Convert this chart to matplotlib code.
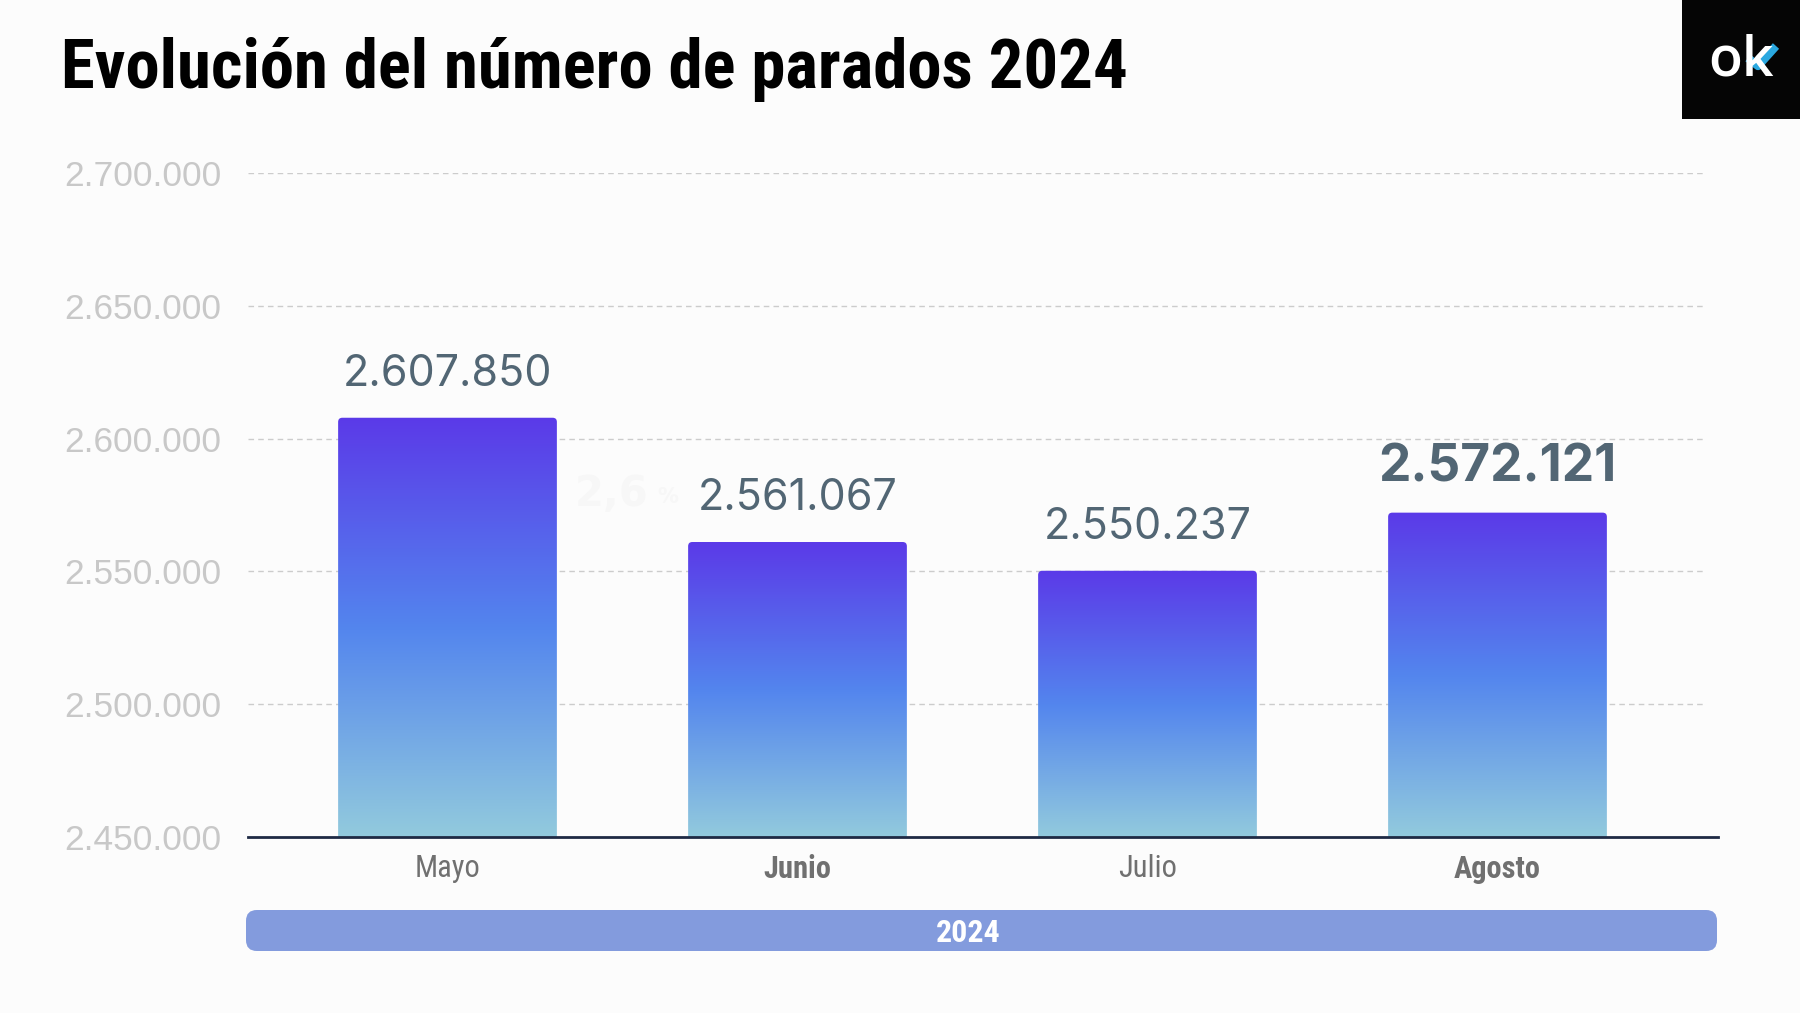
import matplotlib
matplotlib.use("Agg")
import matplotlib.pyplot as plt
import numpy as np
from matplotlib import font_manager as fm
from matplotlib.patches import FancyBboxPatch, Rectangle
from matplotlib.lines import Line2D
from matplotlib.colors import LinearSegmentedColormap

months = ["Mayo", "Junio", "Julio", "Agosto"]
parados = [2607850, 2561067, 2550237, 2572121]
value_labels = ["2.607.850", "2.561.067", "2.550.237", "2.572.121"]
month_bold = [False, True, False, True]
label_bold = [False, False, False, True]
y_ticks = [2450000, 2500000, 2550000, 2600000, 2650000, 2700000]
y_tick_labels = ["2.450.000", "2.500.000", "2.550.000", "2.600.000", "2.650.000", "2.700.000"]
title = "Evolución del número de parados 2024"
band_label = "2024"
ghost_value = "2,6"
ghost_unit = "%"

names = {f.name for f in fm.fontManager.ttflist}
def pick(*cands):
    for c in cands:
        if c in names:
            return c
    return "DejaVu Sans"
narrow = pick("Roboto Condensed", "Liberation Sans Narrow", "DejaVu Sans")
numfont = pick("Inter", "Roboto", "DejaVu Sans")
tickfont = pick("Liberation Sans", "DejaVu Sans")

W, H = 1800, 1013
fig = plt.figure(figsize=(18, 10.13), dpi=100)
bg = "#FCFCFC"
fig.patch.set_facecolor(bg)

ax = fig.add_axes([248/W, 1-837/H, (1718-248)/W, (837-173)/H])
ax.set_facecolor(bg)
ymin, ymax = 2450000, 2700000
ax.set_ylim(ymin, ymax)
ax.set_xlim(-0.57, 3.63)
for s in ["top", "right", "left"]:
    ax.spines[s].set_visible(False)
ax.spines["bottom"].set_color("#1E2A44")
ax.spines["bottom"].set_linewidth(2)
ax.spines["bottom"].set_zorder(5)

ax.set_yticks(y_ticks)
ax.set_yticklabels(y_tick_labels, fontsize=25.5, color="#C8C8C8", fontfamily=tickfont)
ax.tick_params(axis="y", length=0, pad=19)
for y in y_ticks[1:]:
    ax.plot([-0.57, 3.59], [y, y], ls=(0, (4, 3)), color="#CCCCCC", lw=1, zorder=1)

x = np.arange(len(months))
ax.set_xticks(x)
ax.set_xticklabels(months, fontsize=22, color="#707070", fontfamily=narrow)
for lbl, b in zip(ax.get_xticklabels(), month_bold):
    if b:
        lbl.set_fontweight("bold")
ax.tick_params(axis="x", length=0, pad=12)

bar_w = 0.625
bars = ax.bar(x, parados, width=bar_w, bottom=0, color="none", zorder=2)

cmap = LinearSegmentedColormap.from_list("g", ["#92CADD", "#5385EE", "#5B3AE8"])
grad = np.linspace(0, 1, 256).reshape(-1, 1)
ypp = (ymax - ymin) / 664.0
xpp = 4.2 / 1470.0
for b in bars:
    x0 = b.get_x(); w = b.get_width(); top = b.get_height()
    patch = FancyBboxPatch((x0, ymin - 20000), w, top - ymin + 20000,
                           boxstyle="round,pad=0,rounding_size=0.012",
                           mutation_aspect=ypp/xpp, transform=ax.transData,
                           facecolor="none", edgecolor="none")
    ax.add_patch(patch)
    im = ax.imshow(grad, extent=[x0, x0 + w, ymin, top], origin="lower",
                   cmap=cmap, aspect="auto", zorder=3)
    im.set_clip_path(patch)

for xi, v, lab, b in zip(x, parados, value_labels, label_bold):
    ax.annotate(lab, (xi, v), xytext=(0, 32 if b else 31), textcoords="offset points",
                ha="center", va="center", fontsize=37 if b else 31,
                fontweight="bold" if b else "normal",
                color="#526674", fontfamily=numfont)

# faint ghost label
ax.text(0.47, 2579000, ghost_value, transform=ax.transData, ha="center",
        va="center", fontsize=30, fontweight="bold", color="#F7F7F7", zorder=1)
ax.text(0.63, 2578000, ghost_unit, transform=ax.transData, ha="center",
        va="center", fontsize=15, fontweight="bold", color="#F7F7F7", zorder=1)

# title
fig.text(61/W, 1-69/H, title, fontsize=49.5, fontweight="bold", color="black",
         ha="left", va="center", fontfamily=narrow)

# year band
band = FancyBboxPatch((246/W, 1-951/H), (1717-246)/W, 41/H,
                      boxstyle="round,pad=0,rounding_size=0.006",
                      mutation_aspect=W/H, transform=fig.transFigure,
                      facecolor="#839BDD", edgecolor="none")
fig.patches.append(band)
fig.text(968/W, 1-933/H, band_label, fontsize=23, fontweight="bold",
         color="white", ha="center", va="center", fontfamily=narrow)

# logo
fig.patches.append(Rectangle((1682/W, 1-119/H), 118/W, 119/H, transform=fig.transFigure,
                             facecolor="#050505", edgecolor="none"))
fig.text(1741/W, 1-62/H, "ok", fontsize=40, fontweight="semibold", color="white",
         ha="center", va="center", fontfamily=pick("Open Sans", "DejaVu Sans"))
fig.lines.append(Line2D([1748/W, 1758/W, 1776/W], [1-58/H, 1-66/H, 1-46/H],
                        transform=fig.transFigure, color="#2AA8E0", lw=6,
                        solid_capstyle="butt"))

fig.savefig("out.png", dpi=100, facecolor=bg)
